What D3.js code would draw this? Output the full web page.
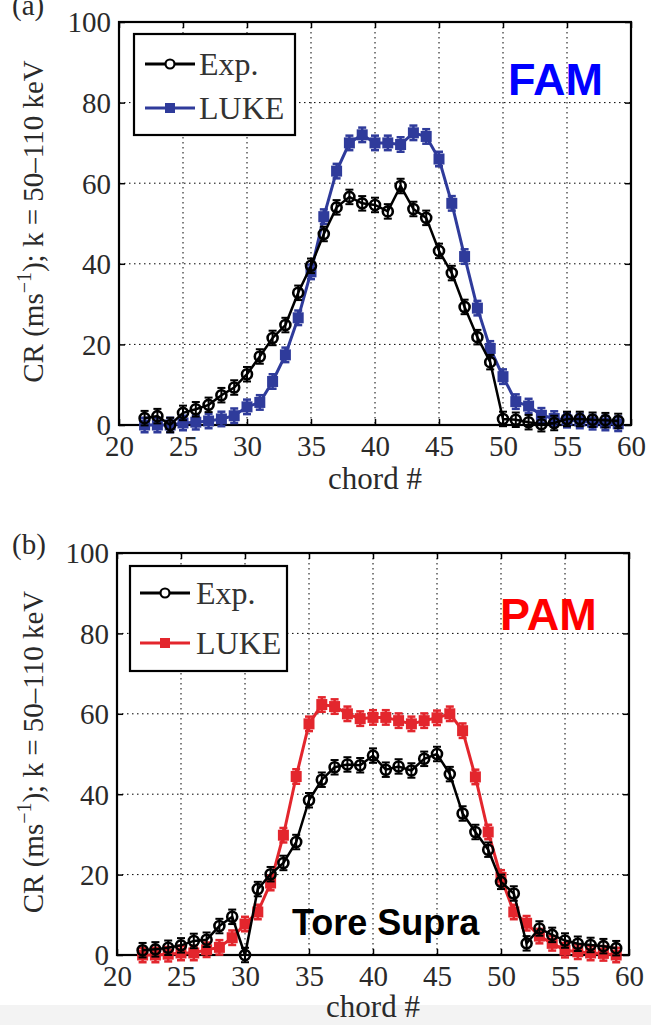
<!DOCTYPE html>
<html>
<head>
<meta charset="utf-8">
<script src="https://cdn.jsdelivr.net/npm/d3@7"></script>
<style>
  body { margin: 0; background: #fff; }
  svg { display: block; }
</style>
</head>
<body>
<div id="chart"></div>
<script>
const svgWidth = 651;
const svgHeight = 1025;

// chord numbers (x)
const chords = [22, 23, 24, 25, 26, 27, 28, 29, 30, 31, 32, 33, 34, 35, 36, 37, 38, 39, 40,
                41, 42, 43, 44, 45, 46, 47, 48, 49, 50, 51, 52, 53, 54, 55, 56, 57, 58, 59];

// (a) FAM
const famExp = [1.7, 2.2, 0, 3.0, 3.9, 5.0, 7.4, 9.3, 12.6, 17.0, 21.6, 24.8, 32.8, 39.5, 47.4, 54.0, 56.6, 55.0, 54.6,
                53.0, 59.3, 53.6, 51.4, 43.2, 37.7, 29.3, 21.8, 15.6, 1.5, 1.3, 0.7, 0.2, 0.5, 1.5, 1.5, 1.3, 1.2, 1.0];
const famLuke = [0, 0, 0, 0.5, 0.7, 1.0, 1.5, 2.3, 4.5, 5.6, 10.8, 17.4, 26.6, 38.0, 51.7, 63.0, 70.0, 72.0, 70.0,
                 70.0, 69.6, 72.5, 71.6, 66.0, 55.0, 41.8, 29.0, 19.0, 12.0, 5.8, 4.7, 2.4, 1.6, 1.2, 1.0, 0.7, 0.5, 0.3];

// (b) PAM
const pamExp = [1.2, 1.4, 1.8, 2.4, 3.5, 3.8, 7.2, 9.5, 0, 16.4, 20.1, 22.9, 28.1, 38.5, 43.6, 46.7, 47.4, 47.2, 49.6,
                46.1, 46.9, 45.9, 48.8, 50.0, 45.0, 35.2, 30.6, 26.2, 18.2, 15.3, 2.9, 6.6, 5.0, 3.6, 2.8, 2.5, 2.2, 1.7];
const pamLuke = [0, 0, 0.2, 0.5, 0.5, 1.3, 1.9, 4.3, 7.7, 10.7, 17.9, 29.8, 44.4, 57.5, 62.3, 61.8, 60.0, 58.8, 59.1,
                 59.1, 58.3, 57.5, 58.3, 59.0, 60.0, 55.8, 44.3, 30.6, 19.3, 10.7, 7.9, 4.7, 2.9, 1.2, 0.8, 0.5, 0.4, 0];

const errBar = 1.8;   // half height of error bars (CR units)

const xTicks = [20, 25, 30, 35, 40, 45, 50, 55, 60];
const yTicks = [0, 20, 40, 60, 80, 100];
const seriesNames = ["Exp.", "LUKE"];
const yLabelMain = "CR (ms";
const yLabelSup = "\u22121";
const yLabelEnd = "); k = 50\u2013110 keV";
const xLabel = "chord #";

const serif = "'Liberation Serif', 'Times New Roman', serif";
const sans = "'Liberation Sans', Arial, sans-serif";
const tickColor = "#2a2a2a";

const panels = [
    {
        tag: "(a)", tagY: 15,
        exp: famExp, luke: famLuke, lukeColor: "#2f3b9b",
        x0: 119, x1: 631, top: 22, bottom: 425, xLabelGap: 53,
        legend: { x: 134, y: 34, w: 161, h: 101, rows: [64, 108], lx1: 145, lx2: 195, tx: 199 },
        notes: [{ text: "FAM", x: 508, y: 95, size: 45, color: "#0000ff" }]
    },
    {
        tag: "(b)", tagY: 554,
        exp: pamExp, luke: pamLuke, lukeColor: "#e3262d",
        x0: 117, x1: 629, top: 553, bottom: 955, xLabelGap: 51,
        legend: { x: 130, y: 566, w: 157, h: 105, rows: [593, 643], lx1: 140, lx2: 190, tx: 196 },
        notes: [{ text: "PAM", x: 500, y: 630, size: 45, color: "#ff0000" },
                { text: "Tore Supra", x: 292, y: 935, size: 36, color: "#000" }]
    }
];

document.addEventListener('DOMContentLoaded', function () {
    const svg = d3.select('#chart')
        .append('svg')
        .attr('width', svgWidth)
        .attr('height', svgHeight);

    svg.append("rect")
        .attr("width", svgWidth).attr("height", svgHeight)
        .attr("fill", "#fff");

    // light grey band at the very bottom of the scan
    svg.append("rect")
        .attr("x", 0).attr("y", 1005)
        .attr("width", svgWidth).attr("height", svgHeight - 1005)
        .attr("fill", "#f3f3f3");

    panels.forEach(p => drawPanel(svg, p));
});

function drawPanel(svg, p) {
    const xScale = d3.scaleLinear().domain([20, 60]).range([p.x0, p.x1]);
    const yScale = d3.scaleLinear().domain([0, 100]).range([p.bottom, p.top]);
    const g = svg.append("g");

    // dotted grid
    g.selectAll(".vgrid")
        .data(xTicks.slice(1, -1))
        .enter()
        .append("line")
        .attr("x1", d => xScale(d)).attr("x2", d => xScale(d))
        .attr("y1", p.top).attr("y2", p.bottom)
        .attr("stroke", "#000").attr("stroke-width", 1)
        .style("stroke-dasharray", "1.5,3.5");

    g.selectAll(".hgrid")
        .data(yTicks.slice(1, -1))
        .enter()
        .append("line")
        .attr("x1", p.x0).attr("x2", p.x1)
        .attr("y1", d => yScale(d)).attr("y2", d => yScale(d))
        .attr("stroke", "#000").attr("stroke-width", 1)
        .style("stroke-dasharray", "1.5,3.5");

    // axes, ticks pointing inwards, on all four sides
    const fontStyle = sel => sel.selectAll("text")
        .attr("font-family", serif).attr("font-size", 29).attr("fill", tickColor);

    const bottomAxis = g.append("g")
        .attr("transform", `translate(0, ${p.bottom})`)
        .call(d3.axisBottom(xScale).tickValues(xTicks).tickSizeInner(-6).tickSizeOuter(0).tickPadding(14));
    fontStyle(bottomAxis);
    bottomAxis.selectAll("text").attr("dy", "0.6em");

    const leftAxis = g.append("g")
        .attr("transform", `translate(${p.x0}, 0)`)
        .call(d3.axisLeft(yScale).tickValues(yTicks).tickSizeInner(-6).tickSizeOuter(0).tickPadding(8));
    fontStyle(leftAxis);
    leftAxis.selectAll("text").attr("dy", "0.34em");

    g.append("g")
        .attr("transform", `translate(0, ${p.top})`)
        .call(d3.axisTop(xScale).tickValues(xTicks).tickSizeInner(-6).tickSizeOuter(0).tickFormat(""));
    g.append("g")
        .attr("transform", `translate(${p.x1}, 0)`)
        .call(d3.axisRight(yScale).tickValues(yTicks).tickSizeInner(-6).tickSizeOuter(0).tickFormat(""));

    g.selectAll(".domain").remove();
    g.selectAll(".tick line").attr("stroke", "#000").attr("stroke-width", 1.5);

    g.append("rect")
        .attr("x", p.x0).attr("y", p.top)
        .attr("width", p.x1 - p.x0).attr("height", p.bottom - p.top)
        .attr("fill", "none").attr("stroke", "#000").attr("stroke-width", 2.2);

    // axis labels
    g.append("text")
        .attr("x", (p.x0 + p.x1) / 2)
        .attr("y", p.bottom + p.xLabelGap)
        .attr("text-anchor", "middle")
        .attr("dominant-baseline", "central")
        .attr("font-family", serif).attr("font-size", 31).attr("fill", tickColor)
        .text(xLabel);

    const yl = g.append("text")
        .attr("transform", `translate(43, ${(p.top + p.bottom) / 2 - 2}) rotate(-90)`)
        .attr("text-anchor", "middle")
        .attr("font-family", serif).attr("font-size", 29).attr("fill", tickColor);
    yl.append("tspan").text(yLabelMain);
    yl.append("tspan").attr("dy", -12).attr("font-size", 20).text(yLabelSup);
    yl.append("tspan").attr("dy", 12).text(yLabelEnd);

    g.append("text")
        .attr("x", 12).attr("y", p.tagY)
        .attr("font-family", serif).attr("font-size", 29).attr("fill", tickColor)
        .text(p.tag);

    const rows = chords.map((c, i) => ({ c: c, exp: p.exp[i], luke: p.luke[i] }));

    // LUKE series: line, error bars, filled squares
    const lukeLine = d3.line().x(d => xScale(d.c)).y(d => yScale(d.luke));
    g.append("path")
        .datum(rows)
        .attr("d", lukeLine)
        .attr("fill", "none")
        .attr("stroke", p.lukeColor)
        .attr("stroke-width", 3);
    drawErrors(g, rows, d => d.luke, xScale, yScale, p.lukeColor, 2.5);
    g.selectAll(".lukeMark")
        .data(rows)
        .enter()
        .append("rect")
        .attr("x", d => xScale(d.c) - 5.5)
        .attr("y", d => yScale(d.luke) - 5.5)
        .attr("width", 11).attr("height", 11)
        .attr("fill", p.lukeColor);

    // Exp series: line, error bars, open circles
    const expLine = d3.line().x(d => xScale(d.c)).y(d => yScale(d.exp));
    g.append("path")
        .datum(rows)
        .attr("d", expLine)
        .attr("fill", "none")
        .attr("stroke", "#000")
        .attr("stroke-width", 2.5);
    drawErrors(g, rows, d => d.exp, xScale, yScale, "#000", 2);
    g.selectAll(".expMark")
        .data(rows)
        .enter()
        .append("circle")
        .attr("cx", d => xScale(d.c))
        .attr("cy", d => yScale(d.exp))
        .attr("r", 5)
        .attr("fill", "none")
        .attr("stroke", "#000")
        .attr("stroke-width", 2.6);

    // legend
    const L = p.legend;
    g.append("rect")
        .attr("x", L.x).attr("y", L.y).attr("width", L.w).attr("height", L.h)
        .attr("fill", "#fff").attr("stroke", "#000").attr("stroke-width", 2.2);

    seriesNames.forEach((name, i) => {
        const y = L.rows[i];
        const col = i === 0 ? "#000" : p.lukeColor;
        g.append("line")
            .attr("x1", L.lx1).attr("x2", L.lx2).attr("y1", y).attr("y2", y)
            .attr("stroke", col).attr("stroke-width", 3);
        if (i === 0) {
            g.append("circle")
                .attr("cx", (L.lx1 + L.lx2) / 2).attr("cy", y).attr("r", 4.5)
                .attr("fill", "#fff").attr("stroke", col).attr("stroke-width", 2.2);
        } else {
            g.append("rect")
                .attr("x", (L.lx1 + L.lx2) / 2 - 5).attr("y", y - 5)
                .attr("width", 10).attr("height", 10)
                .attr("fill", col);
        }
        g.append("text")
            .attr("x", L.tx).attr("y", y)
            .attr("dominant-baseline", "central")
            .attr("font-family", serif).attr("font-size", 32).attr("fill", "#333")
            .text(name);
    });

    // annotations
    p.notes.forEach(n => {
        g.append("text")
            .attr("x", n.x).attr("y", n.y)
            .attr("font-family", sans).attr("font-weight", "bold")
            .attr("font-size", n.size).attr("fill", n.color)
            .text(n.text);
    });
}

function drawErrors(g, rows, val, xScale, yScale, color, width) {
    const eb = g.append("g").attr("stroke", color).attr("stroke-width", width);
    rows.forEach(d => {
        const x = xScale(d.c);
        const yLo = yScale(val(d) - errBar);
        const yHi = yScale(val(d) + errBar);
        eb.append("line").attr("x1", x).attr("x2", x).attr("y1", yLo).attr("y2", yHi);
        eb.append("line").attr("x1", x - 4).attr("x2", x + 4).attr("y1", yLo).attr("y2", yLo);
        eb.append("line").attr("x1", x - 4).attr("x2", x + 4).attr("y1", yHi).attr("y2", yHi);
    });
}
</script>
</body>
</html>
